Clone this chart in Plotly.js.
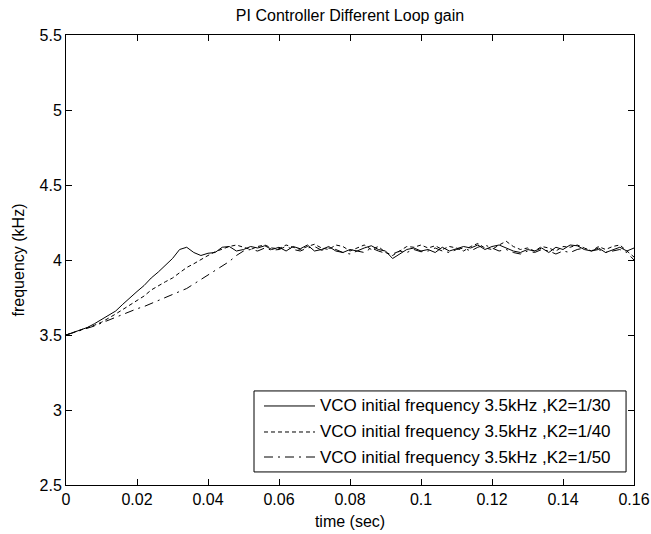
<!DOCTYPE html>
<html>
<head>
<meta charset="utf-8">
<script src="https://cdn.plot.ly/plotly-3.0.1.min.js"></script>
<style>
  html, body { margin: 0; padding: 0; background: #ffffff; }
  #chart { width: 651px; height: 534px; }
</style>
</head>
<body>
<div id="chart"></div>
<script>
// Sample times (s)
const timeSec = [
  0.000, 0.002, 0.004, 0.006, 0.008, 0.010, 0.012, 0.014, 0.016, 0.018,
  0.020, 0.022, 0.024, 0.026, 0.028, 0.030, 0.032, 0.034, 0.036, 0.038,
  0.040, 0.042, 0.044, 0.046, 0.048, 0.050, 0.052, 0.054, 0.056, 0.058,
  0.060, 0.062, 0.064, 0.066, 0.068, 0.070, 0.072, 0.074, 0.076, 0.078,
  0.080, 0.082, 0.084, 0.086, 0.088, 0.090, 0.092, 0.094, 0.096, 0.098,
  0.100, 0.102, 0.104, 0.106, 0.108, 0.110, 0.112, 0.114, 0.116, 0.118,
  0.120, 0.122, 0.124, 0.126, 0.128, 0.130, 0.132, 0.134, 0.136, 0.138,
  0.140, 0.142, 0.144, 0.146, 0.148, 0.150, 0.152, 0.154, 0.156, 0.158,
  0.160
];

// VCO frequency (kHz), K2 = 1/30
const freqK30 = [
  3.500, 3.515, 3.530, 3.550, 3.575, 3.605, 3.630, 3.660, 3.705, 3.750,
  3.790, 3.830, 3.880, 3.920, 3.965, 4.010, 4.070, 4.085, 4.050, 4.030,
  4.045, 4.050, 4.085, 4.090, 4.060, 4.070, 4.090, 4.080, 4.095, 4.070,
  4.085, 4.060, 4.090, 4.075, 4.100, 4.060, 4.070, 4.090, 4.060, 4.050,
  4.070, 4.060, 4.080, 4.095, 4.070, 4.060, 4.010, 4.040, 4.070, 4.080,
  4.060, 4.070, 4.050, 4.085, 4.060, 4.075, 4.090, 4.080, 4.100, 4.070,
  4.090, 4.100, 4.080, 4.060, 4.050, 4.070, 4.060, 4.080, 4.050, 4.085,
  4.070, 4.100, 4.095, 4.070, 4.060, 4.080, 4.050, 4.070, 4.085, 4.060,
  4.080
];

// VCO frequency (kHz), K2 = 1/40
const freqK40 = [
  3.500, 3.515, 3.530, 3.545, 3.565, 3.585, 3.610, 3.640, 3.670, 3.700,
  3.730, 3.760, 3.800, 3.830, 3.855, 3.880, 3.915, 3.950, 3.975, 4.005,
  4.030, 4.055, 4.075, 4.090, 4.100, 4.085, 4.070, 4.090, 4.100, 4.080,
  4.075, 4.100, 4.085, 4.070, 4.090, 4.105, 4.080, 4.070, 4.100, 4.090,
  4.060, 4.080, 4.100, 4.070, 4.090, 4.050, 4.030, 4.060, 4.090, 4.085,
  4.100, 4.080, 4.095, 4.070, 4.090, 4.080, 4.060, 4.090, 4.110, 4.080,
  4.070, 4.100, 4.125, 4.090, 4.070, 4.080, 4.060, 4.090, 4.080, 4.060,
  4.090, 4.085, 4.100, 4.080, 4.060, 4.090, 4.070, 4.090, 4.100, 4.060,
  4.020
];

// VCO frequency (kHz), K2 = 1/50
const freqK50 = [
  3.500, 3.515, 3.530, 3.540, 3.560, 3.580, 3.600, 3.615, 3.635, 3.655,
  3.675, 3.690, 3.710, 3.730, 3.750, 3.770, 3.785, 3.810, 3.840, 3.870,
  3.900, 3.930, 3.960, 3.990, 4.030, 4.060, 4.070, 4.060, 4.080, 4.065,
  4.070, 4.090, 4.070, 4.060, 4.080, 4.090, 4.065, 4.080, 4.070, 4.050,
  4.040, 4.060, 4.050, 4.080, 4.060, 4.045, 4.040, 4.060, 4.050, 4.070,
  4.055, 4.060, 4.080, 4.060, 4.050, 4.070, 4.080, 4.060, 4.085, 4.100,
  4.080, 4.060, 4.070, 4.050, 4.040, 4.060, 4.050, 4.070, 4.060, 4.040,
  4.060, 4.050, 4.070, 4.080, 4.060, 4.070, 4.050, 4.060, 4.070, 4.050,
  4.000
];

const seriesNames = [
  'VCO initial frequency 3.5kHz ,K2=1/30',
  'VCO initial frequency 3.5kHz ,K2=1/40',
  'VCO initial frequency 3.5kHz ,K2=1/50'
];

const xTickVals = [0, 0.02, 0.04, 0.06, 0.08, 0.1, 0.12, 0.14, 0.16];
const xTickText = ['0', '0.02', '0.04', '0.06', '0.08', '0.1', '0.12', '0.14', '0.16'];
const yTickVals = [2.5, 3, 3.5, 4, 4.5, 5, 5.5];
const yTickText = ['2.5', '3', '3.5', '4', '4.5', '5', '5.5'];

const dashStyles = ['solid', '4px,3px', '9px,5px,2px,5px'];
const seriesData = [freqK30, freqK40, freqK50];

const traces = seriesData.map((ys, i) => ({
  x: timeSec,
  y: ys,
  name: seriesNames[i],
  type: 'scatter',
  mode: 'lines',
  line: { color: '#000000', width: 1, dash: dashStyles[i] },
  showlegend: false,
  hoverinfo: 'skip'
}));

// Hand-built legend box (paper coordinates)
const legBox = { x0: 0.331, x1: 0.986, y0: 0.029, y1: 0.209 };
const legRows = [0.1756, 0.1178, 0.0622];
const legLineX = [0.3486, 0.4384];
const legTextX = 0.4437;

const shapes = [{
  type: 'rect', xref: 'paper', yref: 'paper',
  x0: legBox.x0, x1: legBox.x1, y0: legBox.y0, y1: legBox.y1,
  line: { color: '#000000', width: 1 }, fillcolor: '#ffffff', layer: 'above'
}];
const annotations = [];
legRows.forEach((ry, i) => {
  shapes.push({
    type: 'line', xref: 'paper', yref: 'paper',
    x0: legLineX[0], x1: legLineX[1], y0: ry, y1: ry,
    line: { color: '#000000', width: 1, dash: dashStyles[i] }, layer: 'above'
  });
  annotations.push({
    xref: 'paper', yref: 'paper', x: legTextX, y: ry,
    xanchor: 'left', yanchor: 'middle', showarrow: false,
    text: seriesNames[i],
    font: { family: 'Liberation Sans, Arial, sans-serif', size: 17, color: '#000000' }
  });
});

const layout = {
  width: 651,
  height: 534,
  paper_bgcolor: '#ffffff',
  plot_bgcolor: '#ffffff',
  margin: { l: 66, r: 17, t: 35, b: 49 },
  font: { family: 'Liberation Sans, Arial, sans-serif', size: 16, color: '#000000' },
  title: {
    text: 'PI Controller Different Loop gain',
    font: { size: 16, color: '#000000' },
    x: 0.5, xref: 'paper', xanchor: 'center',
    y: 0.972, yanchor: 'middle'
  },
  xaxis: {
    range: [0, 0.16],
    tickvals: xTickVals,
    ticktext: xTickText,
    ticks: 'inside',
    ticklen: 6,
    tickcolor: '#000000',
    showline: true,
    linecolor: '#000000',
    linewidth: 1,
    mirror: 'ticks',
    showgrid: false,
    zeroline: false,
    tickfont: { size: 16 },
    title: { text: 'time (sec)', font: { size: 16 }, standoff: 8 }
  },
  yaxis: {
    range: [2.5, 5.5],
    tickvals: yTickVals,
    ticktext: yTickText,
    ticks: 'inside',
    ticklen: 6,
    tickcolor: '#000000',
    showline: true,
    linecolor: '#000000',
    linewidth: 1,
    mirror: 'ticks',
    showgrid: false,
    zeroline: false,
    tickfont: { size: 16 },
    title: { text: 'frequency (kHz)', font: { size: 16 }, standoff: 10 }
  },
  shapes: shapes,
  annotations: annotations
};

Plotly.newPlot('chart', traces, layout, { displayModeBar: false, staticPlot: true });
</script>
</body>
</html>
